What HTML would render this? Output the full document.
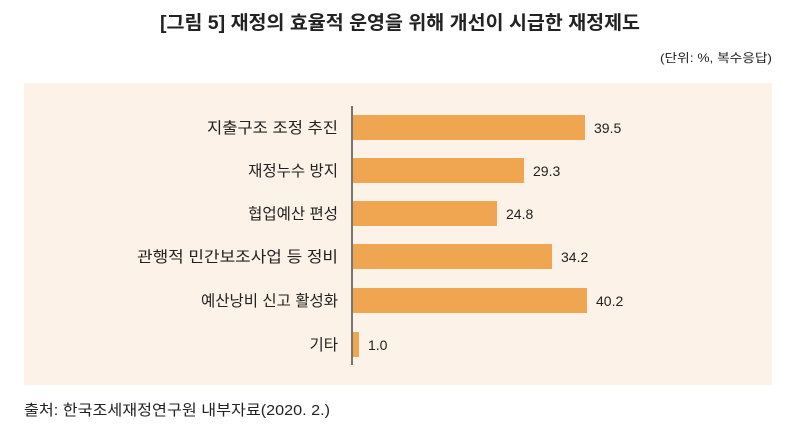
<!DOCTYPE html>
<html><head><meta charset="utf-8"><style>
body{margin:0;background:#fff;}
svg text{font-family:"Liberation Sans","Noto Sans CJK KR",sans-serif;fill:#222;}
</style></head><body>
<svg width="804" height="443" xmlns="http://www.w3.org/2000/svg">
<text x="400" y="29" font-size="19" font-weight="bold" text-anchor="middle" textLength="480" lengthAdjust="spacingAndGlyphs">[그림 5] 재정의 효율적 운영을 위해 개선이 시급한 재정제도</text>
<text x="772" y="62" font-size="12" text-anchor="end" fill="#333" textLength="112" lengthAdjust="spacingAndGlyphs">(단위: %, 복수응답)</text>
<rect x="24" y="83" width="748" height="302" fill="#fcf2e7"/>
<g fill="#f0a550">
<rect x="353" y="115" width="232" height="25"/>
<rect x="353" y="158" width="171" height="25"/>
<rect x="353" y="201" width="144" height="25"/>
<rect x="353" y="244" width="199" height="25"/>
<rect x="353" y="288" width="234" height="25"/>
<rect x="353" y="332" width="6" height="25"/>
</g>
<line x1="352" y1="106" x2="352" y2="365" stroke="#222" stroke-width="1.2"/>
<g font-size="15.5" text-anchor="end">
<text x="338" y="133" textLength="131" lengthAdjust="spacingAndGlyphs">지출구조 조정 추진</text>
<text x="338" y="176">재정누수 방지</text>
<text x="338" y="219">협업예산 편성</text>
<text x="338" y="262" textLength="201" lengthAdjust="spacingAndGlyphs">관행적 민간보조사업 등 정비</text>
<text x="338" y="306">예산낭비 신고 활성화</text>
<text x="338" y="350">기타</text>
</g>
<g font-size="14">
<text x="594" y="133">39.5</text>
<text x="533" y="176">29.3</text>
<text x="506" y="219">24.8</text>
<text x="561" y="262">34.2</text>
<text x="596" y="306">40.2</text>
<text x="368" y="350">1.0</text>
</g>
<text x="24" y="415" font-size="15" fill="#333" textLength="306" lengthAdjust="spacingAndGlyphs">출처: 한국조세재정연구원 내부자료(2020. 2.)</text>
</svg>
</body></html>
